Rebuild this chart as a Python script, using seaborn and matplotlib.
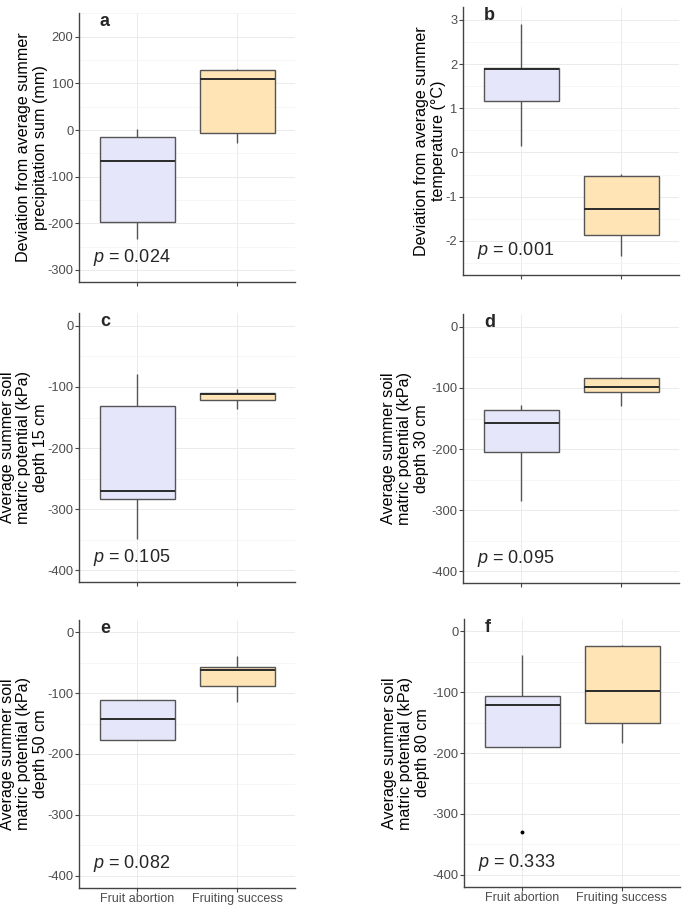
import pandas as pd
import matplotlib
matplotlib.use("Agg")
import matplotlib.pyplot as plt
from matplotlib.ticker import MultipleLocator
import seaborn as sns

# groups
groups = ["Fruit abortion", "Fruiting success"]

# values (min / q1 / median / q3 / max, plus outliers)
precip_abortion = [-233, -197, -67, -16, 2]
precip_success = [-27, -7, 109, 128, 130]
temp_abortion = [0.14, 1.16, 1.88, 1.91, 2.91]
temp_success = [-2.33, -1.86, -1.27, -0.53, -0.49]
soil15_abortion = [-348, -283, -270, -131, -79]
soil15_success = [-136, -122, -111, -110, -104]
soil30_abortion = [-285, -204, -158, -136, -128]
soil30_success = [-130, -106, -99, -83, -82]
soil50_abortion = [-177, -177, -143, -112, -112]
soil50_success = [-114, -89, -62, -57, -39]
soil80_abortion = [-330, -190, -121, -107, -39]
soil80_success = [-184, -151, -98, -24, -23]

letters = ["a", "b", "c", "d", "e", "f"]
p_values = ["0.024", "0.001", "0.105", "0.095", "0.082", "0.333"]
ylabels = [
    "Deviation from average summer\nprecipitation sum (mm)",
    "Deviation from average summer\ntemperature (°C)",
    "Average summer soil\nmatric potential (kPa)\ndepth 15 cm",
    "Average summer soil\nmatric potential (kPa)\ndepth 30 cm",
    "Average summer soil\nmatric potential (kPa)\ndepth 50 cm",
    "Average summer soil\nmatric potential (kPa)\ndepth 80 cm",
]
panel_data = [
    (precip_abortion, precip_success),
    (temp_abortion, temp_success),
    (soil15_abortion, soil15_success),
    (soil30_abortion, soil30_success),
    (soil50_abortion, soil50_success),
    (soil80_abortion, soil80_success),
]

sns.set_theme(style="white")
plt.rcParams["font.family"] = ["Liberation Sans", "DejaVu Sans"]
plt.rcParams["axes.unicode_minus"] = False
plt.rcParams["mathtext.fontset"] = "custom"
plt.rcParams["mathtext.it"] = "Liberation Sans:italic"
plt.rcParams["mathtext.rm"] = "Liberation Sans"

W, H = 685, 906
fig = plt.figure(figsize=(6.85, 9.06), dpi=100)

# axes boxes in pixels: left, top, bottom
boxes = [(79, 13, 282), (463, 7, 275), (79, 313, 582),
         (463, 314, 583), (79, 620, 888), (464, 619, 887)]
ylims = [(-326, 251), (-2.77, 3.29), (-419, 21), (-419, 21), (-420, 20), (-420, 20)]
steps = [100, 1, 100, 100, 100, 100]
label_off = [-31, -17, -31, -34, -31, -34]   # px from the axis to the y label

palette = {"Fruit abortion": "#E6E6FA", "Fruiting success": "#FFE4B5"}
grey = "#555555"

for i in range(6):
    left, top, bottom = boxes[i]
    ax = fig.add_axes([left / W, (H - bottom) / H, 216 / W, (bottom - top) / H])
    ab, su = panel_data[i]
    df = pd.DataFrame({
        "group": [groups[0]] * len(ab) + [groups[1]] * len(su),
        "value": ab + su,
    })
    sns.boxplot(data=df, x="group", y="value", hue="group", palette=palette,
                order=groups, width=0.75, linewidth=1.0, linecolor=grey,
                saturation=1, showcaps=False, legend=False, ax=ax,
                medianprops=dict(color="#2A2A2A", linewidth=1.4),
                flierprops=dict(marker="o", markersize=1.8,
                                markerfacecolor="black", markeredgecolor="black"))

    ax.set_xlim(-0.58, 1.58)
    ax.set_ylim(*ylims[i])
    ax.yaxis.set_major_locator(MultipleLocator(steps[i]))
    ax.yaxis.set_minor_locator(MultipleLocator(steps[i] / 2))
    ax.grid(True, which="major", color="#EBEBEB", linewidth=0.7)
    ax.grid(True, which="minor", axis="y", color="#F3F3F3", linewidth=0.5)
    ax.set_axisbelow(True)

    for s in ["top", "right"]:
        ax.spines[s].set_visible(False)
    for s in ["left", "bottom"]:
        ax.spines[s].set_color("#444444")
        ax.spines[s].set_linewidth(1.0)

    ax.tick_params(axis="both", which="major", length=3, width=0.8,
                   color="#444444", labelcolor="#4D4D4D", pad=1,
                   left=True, bottom=True)
    ax.tick_params(axis="y", which="major", labelsize=9.3)
    ax.tick_params(axis="x", which="major", labelsize=9.0, pad=0.5)
    ax.tick_params(axis="y", which="minor", length=0)
    ax.set_xlabel("")
    ax.set_ylabel(ylabels[i], fontsize=11.6, color="black", linespacing=1.13)
    ax.yaxis.set_label_coords(label_off[i] / 216, 0.5)
    if i < 4:
        ax.set_xticklabels([])

    ax.text(0.097, 0.97, letters[i], transform=ax.transAxes, fontsize=13,
            fontweight="bold", ha="left", va="center")
    ax.text(0.065, 0.09, r"$p$ = " + p_values[i], transform=ax.transAxes,
            fontsize=13, ha="left", va="center")

fig.savefig("out.png", dpi=100)
